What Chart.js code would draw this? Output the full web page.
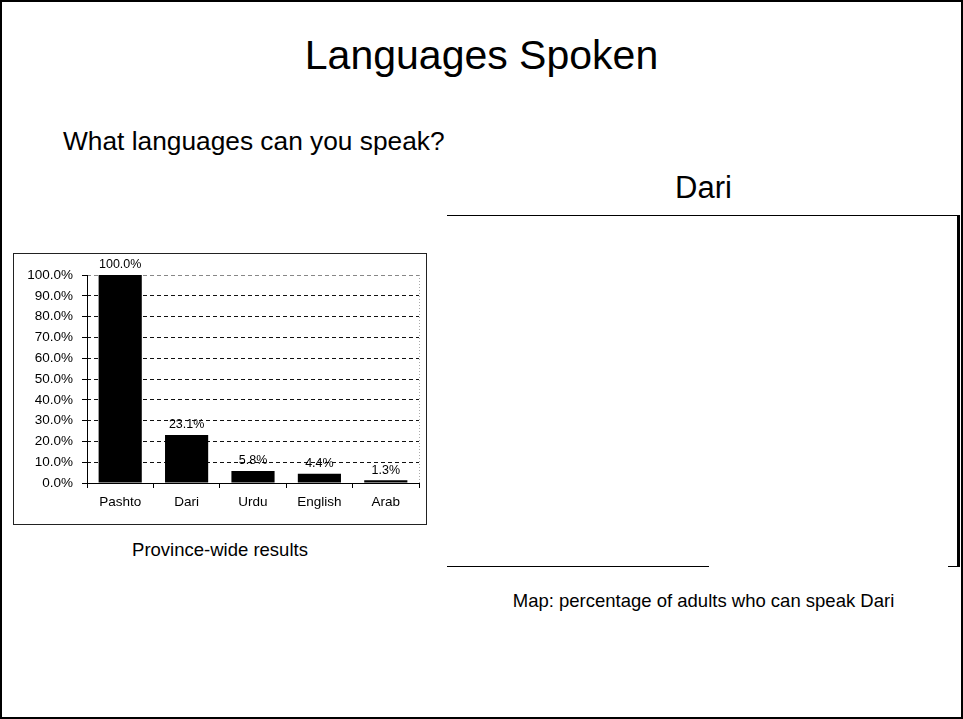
<!DOCTYPE html>
<html>
<head>
<meta charset="utf-8">
<script src="https://cdn.jsdelivr.net/npm/chart.js@4.4.0/dist/chart.umd.min.js"></script>
<style>
  html, body { margin: 0; padding: 0; background: #fff; }
  #slide { position: absolute; left: 0; top: 0; width: 963px; height: 719px; background: #fff; overflow: hidden; font-family: "Liberation Sans", Arial, sans-serif; color: #000; }
  #frame { position: absolute; left: 0; top: 0; width: 963px; height: 719px; box-sizing: border-box; border: 2px solid #000; pointer-events: none; }
  .t { position: absolute; white-space: nowrap; line-height: 1; }
  .line { position: absolute; background: #000; }
  #box { position: absolute; left: 13px; top: 253px; width: 414px; height: 272px; box-sizing: border-box; border: 1px solid #222; }
  #c { position: absolute; left: 0; top: 0; }
</style>
</head>
<body>
<div id="slide">
  <div class="t" id="title" style="left:0; width:963px; text-align:center; top:35px; font-size:41px;">Languages Spoken</div>
  <div class="t" style="left:63px; top:128px; font-size:26.3px;">What languages can you speak?</div>
  <div class="t" style="left:447px; width:513px; text-align:center; top:172px; font-size:31px;">Dari</div>
  <div class="line" style="left:447px; top:215px; width:513px; height:1px;"></div>
  <div class="line" style="left:957px; top:215px; width:3px; height:352px;"></div>
  <div class="line" style="left:447px; top:566px; width:262px; height:1px;"></div>
  <div class="line" style="left:948px; top:566px; width:12px; height:1px;"></div>
  <div class="t" style="left:447px; width:513px; text-align:center; top:592px; font-size:18.5px;">Map: percentage of adults who can speak Dari</div>
  <div id="box"><canvas id="c" width="412" height="270"></canvas></div>
  <div class="t" style="left:13px; width:414px; text-align:center; top:541px; font-size:18.5px;">Province-wide results</div>
  <div id="frame"></div>
</div>
<script>
const categories = ["Pashto", "Dari", "Urdu", "English", "Arab"];
const values = [100.0, 23.1, 5.8, 4.4, 1.3];
const yTicks = [0, 10, 20, 30, 40, 50, 60, 70, 80, 90, 100];

const FONT = '"Liberation Sans", Arial, sans-serif';

const decor = {
  id: 'decor',
  beforeDatasetsDraw(chart) {
    const { ctx, chartArea } = chart;
    ctx.save();
    ctx.strokeStyle = '#aaa';
    ctx.lineWidth = 1;
    ctx.setLineDash([1, 2]);
    ctx.beginPath();
    ctx.moveTo(Math.round(chartArea.right) + 0.5, chartArea.top);
    ctx.lineTo(Math.round(chartArea.right) + 0.5, chartArea.bottom);
    ctx.stroke();
    ctx.restore();
  },
  afterDatasetsDraw(chart) {
    const { ctx, chartArea } = chart;
    const y = chart.scales.y;
    const y0 = Math.round(y.getPixelForValue(0)) + 0.5;
    ctx.save();
    ctx.strokeStyle = '#000';
    ctx.lineWidth = 1;
    ctx.setLineDash([]);
    ctx.beginPath();
    ctx.moveTo(Math.round(chartArea.left) + 0.5, chartArea.top);
    ctx.lineTo(Math.round(chartArea.left) + 0.5, y0);
    ctx.moveTo(chartArea.left, y0);
    ctx.lineTo(chartArea.right, y0);
    ctx.stroke();
    const meta = chart.getDatasetMeta(0);
    ctx.fillStyle = '#000';
    ctx.font = '12.5px ' + FONT;
    ctx.textAlign = 'center';
    ctx.textBaseline = 'middle';
    meta.data.forEach((bar, i) => {
      ctx.fillText(values[i].toFixed(1) + '%', bar.x, bar.y - 10);
    });
    ctx.restore();
  }
};

new Chart(document.getElementById('c'), {
  type: 'bar',
  data: {
    labels: categories,
    datasets: [{
      data: values,
      backgroundColor: '#000',
      borderWidth: 0,
      categoryPercentage: 1.0,
      barPercentage: 0.65
    }]
  },
  options: {
    responsive: false,
    devicePixelRatio: 1,
    animation: false,
    events: [],
    layout: { padding: { top: 21, right: 7, left: 0, bottom: 0 } },
    plugins: { legend: { display: false }, tooltip: { enabled: false }, title: { display: false } },
    scales: {
      x: {
        offset: true,
        grid: { offset: true, drawOnChartArea: false, drawTicks: true, tickLength: 5, color: '#000', tickColor: '#000' },
        border: { display: false },
        ticks: { color: '#000', font: { family: FONT, size: 13.5 }, padding: 6, maxRotation: 0 },
        afterFit(scale) { scale.height = 41; }
      },
      y: {
        min: 0, max: 100,
        afterBuildTicks(scale) { scale.ticks = yTicks.map(v => ({ value: v })); },
        grid: {
          drawTicks: true, tickLength: 5,
          color: (c) => (c.tick && c.tick.value === 100) ? '#888' : '#111',
          tickColor: '#000', tickBorderDash: [], lineWidth: 1
        },
        border: { display: false, dash: [4, 3] },
        ticks: {
          color: '#000', font: { family: FONT, size: 13.5 }, padding: 9,
          callback: (v) => Number(v).toFixed(1) + '%'
        },
        afterFit(scale) { scale.width = 73; }
      }
    }
  },
  plugins: [decor]
});
</script>
</body>
</html>
